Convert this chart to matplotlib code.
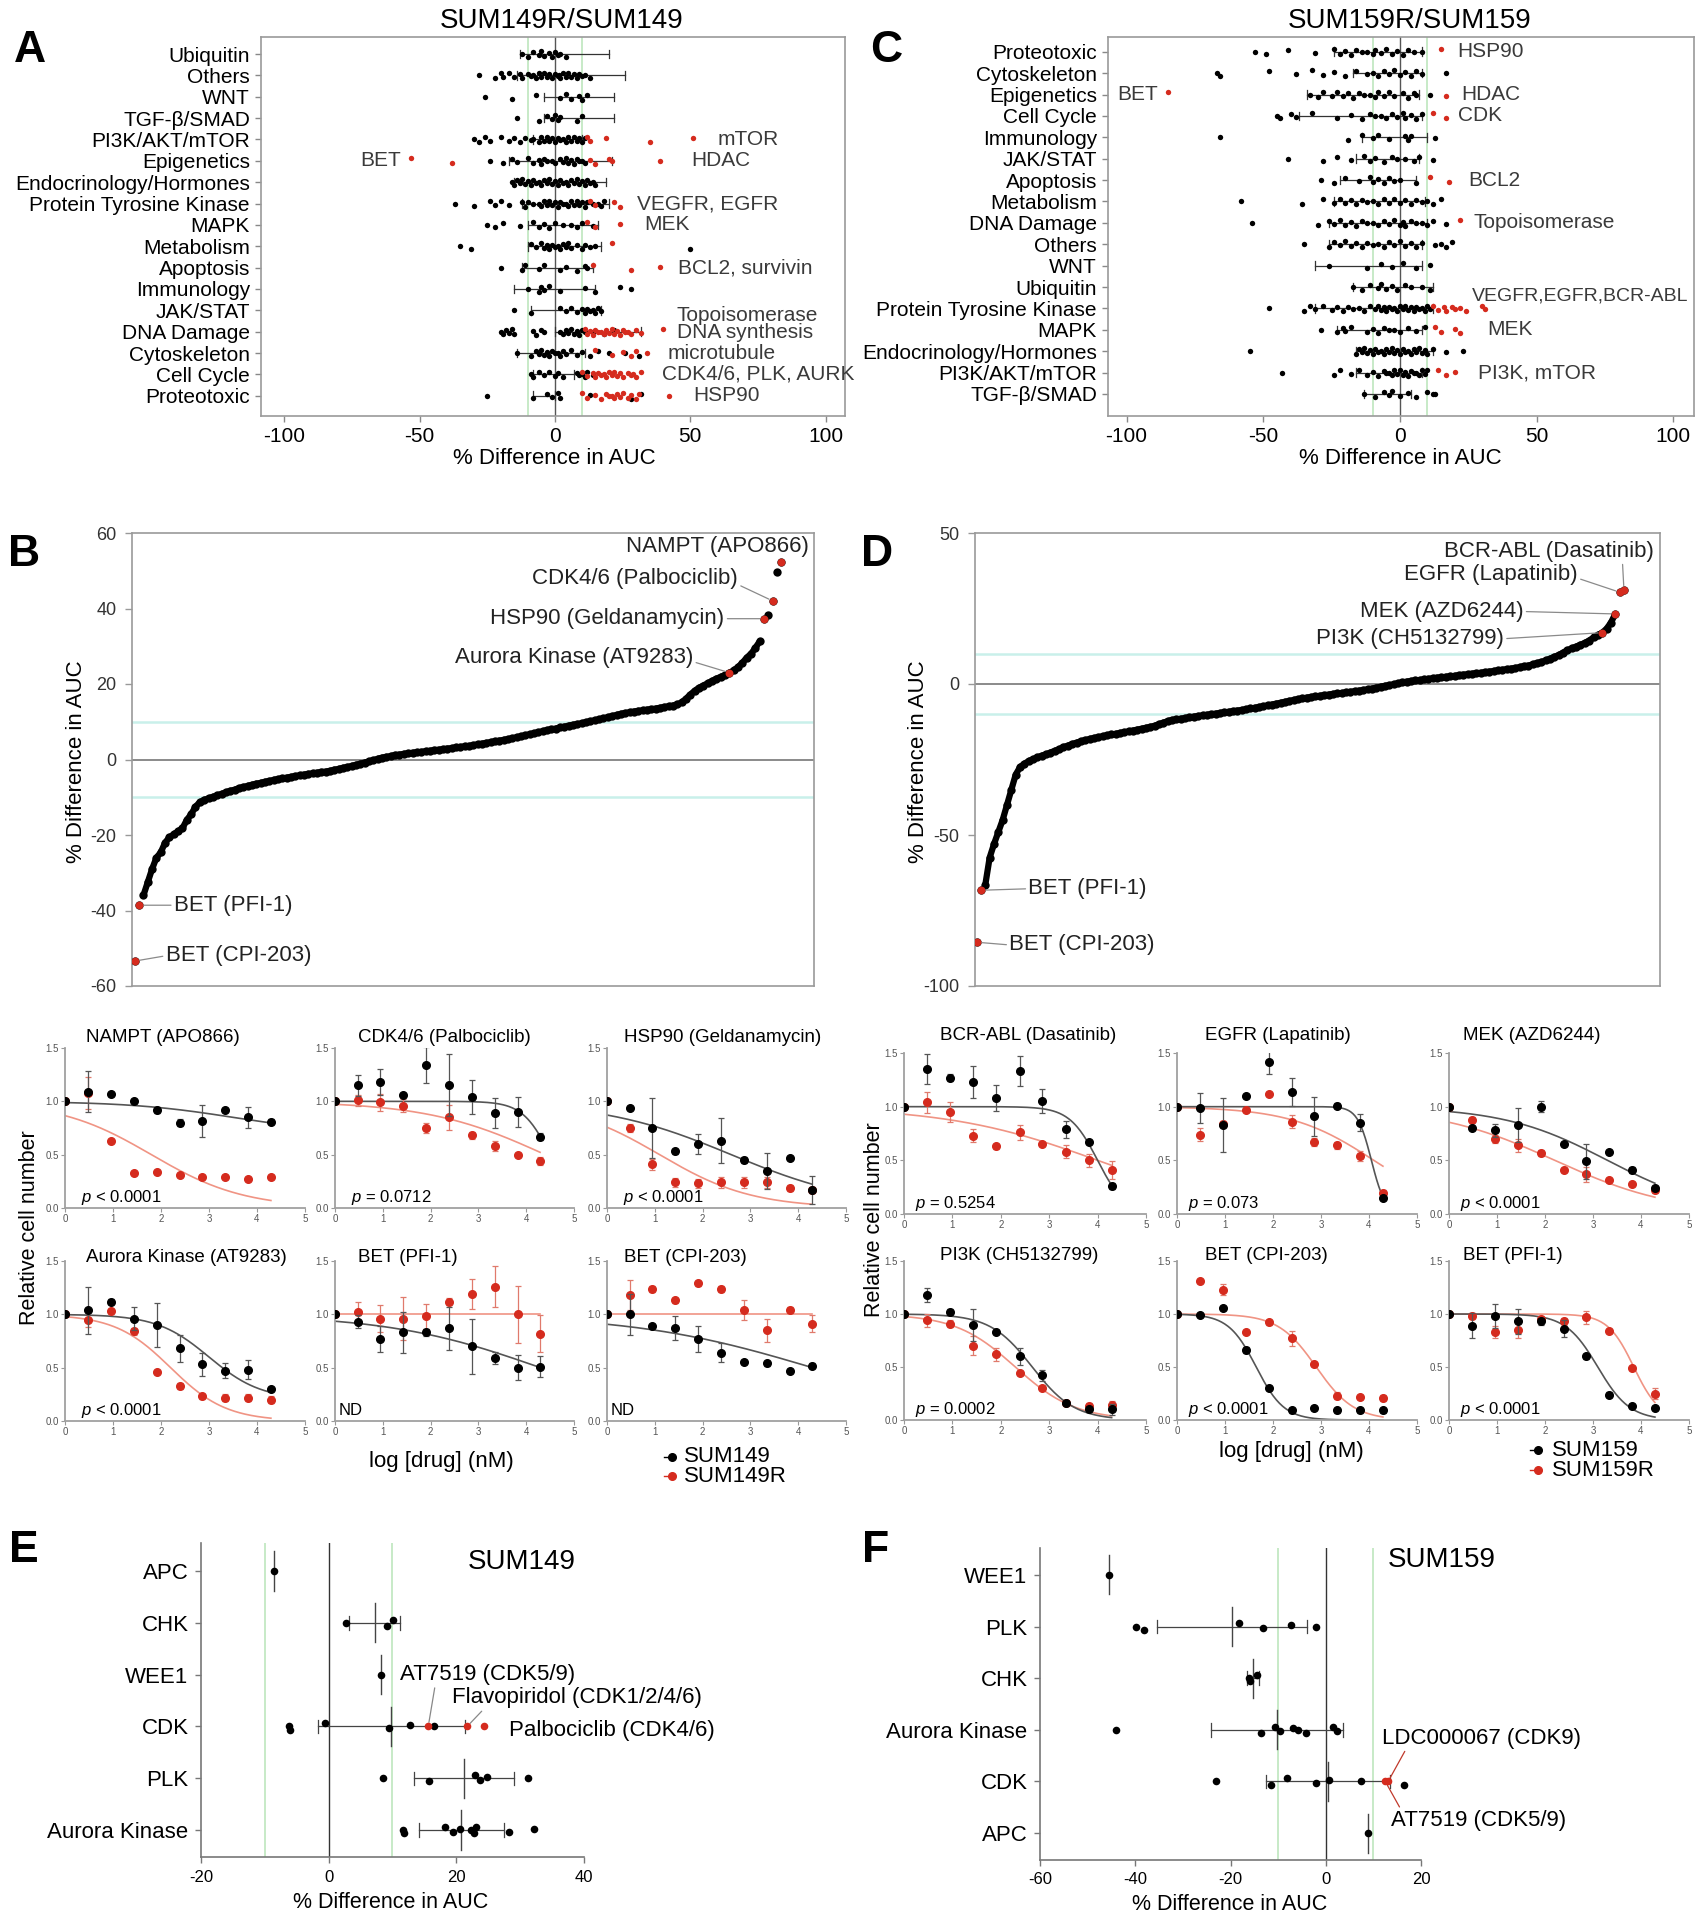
import numpy as np
import matplotlib
matplotlib.use('Agg')
import matplotlib.pyplot as plt
from matplotlib.lines import Line2D

plt.rcParams['font.family'] = ['Liberation Sans', 'DejaVu Sans']
plt.rcParams['axes.unicode_minus'] = False
plt.rcParams['mathtext.fontset'] = 'custom'
plt.rcParams['mathtext.it'] = 'Liberation Sans:italic'
plt.rcParams['mathtext.rm'] = 'Liberation Sans'

RED = '#d52b1e'

# ======================= DATA =======================
# ---- Panel A : SUM149R/SUM149 ----
a_cats = ['Ubiquitin', 'Others', 'WNT', 'TGF-β/SMAD', 'PI3K/AKT/mTOR', 'Epigenetics',
          'Endocrinology/Hormones', 'Protein Tyrosine Kinase', 'MAPK', 'Metabolism',
          'Apoptosis', 'Immunology', 'JAK/STAT', 'DNA Damage', 'Cytoskeleton',
          'Cell Cycle', 'Proteotoxic']
a_black = [
    [-12, -10, -8, -6, -5, -4, -2, -1, 0, 1, 2, 4],
    [-28, -22, -20, -19, -17, -15, -13, -12, -10, -9, -8, -7, -6, -5, -4, -3, -2, -1, 0, 1,
     1.5, 2, 3, 4, 5, 6, 7, 8, 9, 10, 11, 13],
    [-26, -16, -7, 2, 4, 6, 9, 10, 12],
    [-14, -6, -3, -1, 0, 1, 2, 8, 10],
    [-30, -28, -26, -24, -20, -17, -15, -13, -11, -9, -8, -6, -5, -4, -3, -2, -1, 0, 1, 2,
     3, 4, 5, 6, 7, 8, 9, 10, 11],
    [-24, -19, -16, -14, -10, -8, -6, -5, -4, -3, -1, 0, 2, 3, 4, 5, 6, 7, 8, 9, 10, 11],
    [-16, -15, -14, -13, -12, -11, -10, -9, -8, -7, -6, -5, -4, -3, -2, -1, 0, 1, 2, 3, 4,
     5, 6, 7, 8, 9, 10, 11, 12, 13, 14, 15],
    [-37, -30, -24, -22, -20, -17, -12, -11, -10, -8, -6, -5, -4, -3, -2, -1, 0, 1, 2, 3, 4,
     5, 6, 7, 8, 9, 10, 11, 12, 14, 16, 17, 18],
    [-25, -22, -19, -13, -8, -6, -4, -2, 0, 3, 6, 8, 10, 14],
    [-35, -31, -9, -7, -5, -4, -3, -2, -1, 0, 1, 2, 3, 4, 5, 6, 8, 10, 11, 13, 15, 50],
    [-20, -12, -11, -6, -4, 2, 4, 8, 11, 12],
    [-10, -6, -5, -4, -2, 2, 11, 15, 24, 28],
    [-15, -9, 2, 4, 6, 8, 10, 11, 12, 13, 14, 15, 16, 17],
    [-20, -19, -18, -17, -16, -15, -8, -7, -5, -4, 2, 3, 4, 5, 6, 7, 8, 9, 10, 11, 14, 18, 22],
    [-14, -9, -7, -6, -5, -4, -3, -2, -1, 0, 1, 2, 3, 4, 6, 8, 10, 13, 16, 20, 26, 31],
    [-9, -8, -6, -4, -2, 0, 1, 3, 8, 9, 10, 11, 12, 14],
    [-25, -8, -3, -1, 1, 2, 13, 28, 32],
]
a_red = [
    [], [], [], [], [12, 13, 19, 35, 51], [-53, -38, 13, 15, 20, 21, 39], [],
    [13, 15, 22, 24], [12, 15, 24], [21], [14, 28, 39], [], [],
    [11, 12, 13, 14, 15, 16, 17, 18, 19, 20, 21, 22, 23, 24, 25, 26, 27, 28, 30, 32, 40],
    [15, 21, 25, 28, 30, 34],
    [10, 12, 14, 15, 16, 17, 18, 19, 20, 21, 22, 23, 24, 25, 27, 28, 29, 30, 32],
    [10, 12, 15, 17, 19, 20, 21, 22, 23, 24, 25, 27, 28, 30, 31, 42],
]
a_lo = [-13, -14, -4, -4, -8, -17, -15, -12, -10, -10, -12, -15, -9, 0, -14, -8, -8]
a_hi = [20, 26, 22, 22, 10, 21, 19, 20, 16, 17, 14, 15, 17, 32, 11, 7, 0]
a_notes = ['mTOR', 'BET', 'HDAC', 'VEGFR, EGFR', 'MEK', 'BCL2, survivin', 'Topoisomerase',
           'DNA synthesis', 'microtubule', 'CDK4/6, PLK, AURK', 'HSP90']

# ---- Panel C : SUM159R/SUM159 ----
c_cats = ['Proteotoxic', 'Cytoskeleton', 'Epigenetics', 'Cell Cycle', 'Immunology',
          'JAK/STAT', 'Apoptosis', 'Metabolism', 'DNA Damage', 'Others', 'WNT', 'Ubiquitin',
          'Protein Tyrosine Kinase', 'MAPK', 'Endocrinology/Hormones', 'PI3K/AKT/mTOR',
          'TGF-β/SMAD']
c_black = [
    [-53, -49, -41, -31, -24, -22, -20, -18, -16, -14, -12, -10, -9, -7, -5, -3, -1, 1, 3, 5, 8],
    [-67, -66, -48, -38, -32, -28, -24, -20, -16, -12, -10, -8, -6, -4, -2, 0, 2, 4, 6, 8, 17],
    [-33, -30, -28, -25, -23, -21, -19, -17, -15, -13, -11, -9, -8, -6, -4, -2, 1, 3, 5, 6, 11],
    [-45, -44, -40, -38, -32, -23, -18, -14, -11, -9, -7, -5, -3, -1, 1, 2, 4, 6, 8],
    [-66, -19, -14, -10, -8, -4, 2, 3, 4, 13],
    [-41, -28, -23, -18, -13, -11, -9, -6, -3, -1, 2, 5, 7, 12],
    [-29, -24, -20, -15, -11, -10, -8, -6, -4, -2, 0, 6],
    [-58, -36, -28, -24, -22, -20, -18, -16, -14, -12, -10, -8, -6, -4, -2, 0, 2, 4, 6, 8,
     10, 12, 15],
    [-54, -30, -26, -24, -22, -20, -18, -16, -14, -12, -10, -8, -6, -4, -2, 0, 1, 2, 4, 6,
     8, 10, 12, 17],
    [-35, -26, -24, -22, -20, -18, -16, -14, -12, -10, -8, -6, -4, -2, 0, 2, 4, 6, 8, 13,
     15, 17, 19],
    [-26, -12, -7, -3, 1, 6, 11],
    [-17, -14, -11, -8, -7, -5, -3, -1, 2, 4, 8, 11],
    [-48, -35, -33, -31, -28, -25, -23, -21, -19, -17, -15, -13, -11, -9, -8, -7, -6, -5,
     -4, -3, -2, -1, 0, 1, 2, 3, 4, 5, 6, 7, 8, 9, 10, 11],
    [-29, -23, -21, -20, -18, -12, -10, -8, -6, -4, -2, 0, 3, 6, 9],
    [-55, -16, -15, -14, -13, -12, -11, -10, -9, -8, -7, -6, -5, -4, -3, -2, -1, 0, 1, 2,
     3, 4, 5, 6, 7, 8, 9, 10, 12, 17, 23],
    [-43, -24, -22, -18, -15, -12, -10, -8, -6, -5, -4, -3, -2, -1, 0, 1, 2, 3, 4, 5, 6,
     7, 8, 9, 10],
    [-13, -9, -6, -4, -3, 0, 3, 6, 10, 12, 13],
]
c_red = [[15], [], [-85, 17], [12, 17], [], [], [11, 18], [], [22], [], [], [],
         [12, 14, 16, 17, 19, 20, 22, 24, 30, 31], [13, 15, 20, 22], [], [14, 17, 20], []]
c_lo = [-24, -17, -34, -37, -14, -16, -22, -24, -26, -26, -31, -17, -31, -23, -16, -16, -13]
c_hi = [8, 8, 7, 8, 10, 7, 6, 9, 10, 8, 8, 12, 12, 8, 12, 8, 4]
c_notes = ['HSP90', 'BET', 'HDAC', 'CDK', 'BCL2', 'Topoisomerase', 'VEGFR,EGFR,BCR-ABL',
           'MEK', 'PI3K, mTOR']

# ---- Panel B : ranked % difference in AUC, SUM149 ----
b_vals = [-53.4, -38.6, -36.0, -32.5, -29.0, -26.0, -24.6, -22.0, -20.6, -19.8,
          -19.0, -18.2, -16.0, -14.5, -12.5, -11.3, -10.7, -10.3, -9.9, -9.5,
          -9.1, -8.7, -8.3, -8.0, -7.6, -7.3, -7.0, -6.7, -6.4, -6.2,
          -5.9, -5.7, -5.4, -5.2, -5.0, -4.8, -4.6, -4.4, -4.2, -4.0,
          -3.8, -3.7, -3.5, -3.3, -3.2, -3.0, -2.7, -2.5, -2.2, -2.0,
          -1.7, -1.4, -1.1, -0.8, -0.5, -0.2, 0.2, 0.5, 0.7, 0.9,
          1.2, 1.3, 1.5, 1.6, 1.8, 1.9, 2.0, 2.2, 2.3, 2.5,
          2.6, 2.7, 2.9, 3.0, 3.2, 3.3, 3.5, 3.6, 3.8, 4.0,
          4.2, 4.4, 4.6, 4.8, 5.0, 5.2, 5.4, 5.6, 5.9, 6.1,
          6.4, 6.7, 6.9, 7.2, 7.5, 7.8, 8.0, 8.2, 8.5, 8.7,
          9.0, 9.2, 9.4, 9.6, 9.9, 10.1, 10.4, 10.6, 10.9, 11.2,
          11.5, 11.8, 12.1, 12.3, 12.5, 12.7, 12.9, 13.0, 13.2, 13.3,
          13.5, 13.7, 13.9, 14.1, 14.3, 14.6, 15.1, 16.1, 17.2, 18.2,
          19.0, 19.6, 20.2, 20.8, 21.4, 21.9, 22.4, 23.0, 23.6, 24.5,
          25.6, 27.0, 28.0, 29.6, 31.3, 37.3, 38.4, 42.0, 49.7, 52.4]
b_hl = [0, 1, 137, 145, 147, 149]
b_labels = ['BET (CPI-203)', 'BET (PFI-1)', 'Aurora Kinase (AT9283)',
            'HSP90 (Geldanamycin)', 'CDK4/6 (Palbociclib)', 'NAMPT (APO866)']

# ---- Panel D : ranked % difference in AUC, SUM159 ----
d_vals = [-85.5, -68.3, -66.5, -57.5, -53.0, -49.0, -45.0, -40.0, -35.0, -30.0,
          -27.5, -26.4, -25.5, -24.9, -24.3, -23.7, -23.3, -22.7, -22.1, -21.6,
          -20.9, -20.4, -19.9, -19.4, -19.0, -18.6, -18.2, -17.9, -17.6, -17.3,
          -17.0, -16.7, -16.5, -16.2, -16.0, -15.7, -15.4, -15.1, -14.8, -14.5,
          -14.2, -13.8, -13.3, -12.8, -12.3, -11.9, -11.7, -11.5, -11.3, -11.0,
          -10.8, -10.6, -10.4, -10.2, -10.0, -9.8, -9.6, -9.4, -9.2, -9.0,
          -8.8, -8.6, -8.4, -8.1, -7.9, -7.6, -7.4, -7.1, -6.8, -6.5,
          -6.2, -5.9, -5.6, -5.3, -5.0, -4.8, -4.5, -4.3, -4.1, -3.9,
          -3.7, -3.5, -3.3, -3.1, -3.0, -2.8, -2.6, -2.4, -2.2, -2.0,
          -1.8, -1.5, -1.2, -0.9, -0.6, -0.4, -0.1, 0.2, 0.5, 0.8,
          1.0, 1.2, 1.3, 1.5, 1.7, 1.9, 2.1, 2.2, 2.4, 2.5,
          2.7, 2.9, 3.1, 3.2, 3.4, 3.6, 3.7, 3.9, 4.1, 4.3,
          4.5, 4.7, 4.9, 5.1, 5.3, 5.6, 5.9, 6.1, 6.5, 6.9,
          7.3, 7.8, 8.4, 9.0, 9.6, 10.4, 11.2, 11.8, 12.4, 13.0,
          13.6, 14.4, 15.4, 16.2, 17.0, 18.3, 20.3, 23.2, 30.4, 31.2]
d_hl = [0, 1, 144, 147, 148, 149]
d_labels = ['BET (CPI-203)', 'BET (PFI-1)', 'PI3K (CH5132799)', 'MEK (AZD6244)',
            'EGFR (Lapatinib)', 'BCR-ABL (Dasatinib)']

# ---- Dose response: log dose (nM), 3-fold dilutions ----
log_dose = [0, 0.48, 0.95, 1.43, 1.91, 2.39, 2.86, 3.34, 3.82, 4.29]

# SUM149 (black) vs SUM149R (red)
s149_titles = ['NAMPT (APO866)', 'CDK4/6 (Palbociclib)', 'HSP90 (Geldanamycin)',
               'Aurora Kinase (AT9283)', 'BET (PFI-1)', 'BET (CPI-203)']
s149_black = [
    [1.00, 1.09, 1.07, 1.00, 0.92, 0.80, 0.82, 0.92, 0.85, 0.81],
    [1.00, 1.15, 1.18, 1.06, 1.34, 1.15, 1.04, 0.89, 0.90, 0.67],
    [1.00, 0.94, 0.75, 0.53, 0.60, 0.63, 0.45, 0.35, 0.47, 0.17],
    [1.00, 1.04, 1.12, 0.96, 0.90, 0.68, 0.53, 0.47, 0.48, 0.30],
    [1.00, 0.93, 0.77, 0.83, 0.83, 0.87, 0.70, 0.59, 0.50, 0.51],
    [1.00, 1.00, 0.89, 0.87, 0.77, 0.64, 0.55, 0.54, 0.47, 0.52],
]
s149_black_err = [
    [0.0, 0.19, 0.02, 0.02, 0.03, 0.03, 0.15, 0.02, 0.10, 0.02],
    [0.0, 0.10, 0.12, 0.02, 0.17, 0.29, 0.16, 0.14, 0.14, 0.03],
    [0.0, 0.02, 0.28, 0.02, 0.09, 0.21, 0.03, 0.17, 0.02, 0.13],
    [0.0, 0.22, 0.02, 0.11, 0.21, 0.13, 0.11, 0.07, 0.09, 0.02],
    [0.0, 0.06, 0.12, 0.19, 0.03, 0.20, 0.26, 0.06, 0.12, 0.10],
    [0.0, 0.19, 0.02, 0.11, 0.12, 0.09, 0.02, 0.02, 0.02, 0.02],
]
s149_red = [
    [1.00, 1.08, 0.63, 0.33, 0.34, 0.31, 0.29, 0.29, 0.27, 0.29],
    [1.00, 1.01, 0.99, 0.96, 0.75, 0.85, 0.68, 0.58, 0.50, 0.44],
    [1.00, 0.75, 0.41, 0.24, 0.23, 0.24, 0.24, 0.24, 0.19, 0.17],
    [1.00, 0.95, 1.03, 0.84, 0.46, 0.33, 0.23, 0.22, 0.22, 0.20],
    [1.00, 1.02, 0.96, 0.96, 0.98, 1.12, 1.19, 1.26, 1.00, 0.82],
    [1.00, 1.18, 1.24, 1.13, 1.29, 1.24, 1.04, 0.85, 1.04, 0.91],
]
s149_red_err = [
    [0.0, 0.15, 0.02, 0.02, 0.02, 0.02, 0.02, 0.02, 0.02, 0.02],
    [0.0, 0.05, 0.08, 0.06, 0.05, 0.12, 0.03, 0.05, 0.02, 0.04],
    [0.0, 0.04, 0.05, 0.04, 0.04, 0.05, 0.05, 0.05, 0.03, 0.03],
    [0.0, 0.07, 0.02, 0.03, 0.02, 0.03, 0.02, 0.03, 0.03, 0.03],
    [0.0, 0.10, 0.13, 0.20, 0.12, 0.03, 0.14, 0.19, 0.27, 0.17],
    [0.0, 0.14, 0.03, 0.02, 0.02, 0.03, 0.09, 0.11, 0.03, 0.08],
]
# fitted curve parameters: top, bottom, logIC50, hill
s149_fit_black = [(1, 0.7, 3.5, 0.4), (1, 0, 4.5, 1.5), (1, 0, 2.6, 0.32),
                  (1, 0.2, 3.0, 0.8), (1, 0, 4.3, 0.27), (1, 0, 4.3, 0.23)]
s149_fit_red = [(1, 0, 1.8, 0.45), (1, 0, 4.4, 0.35), (1, 0, 1.1, 0.45),
                (1, 0, 2.2, 0.75), (1, 1, 2.0, 1.0), (1, 1, 2.0, 1.0)]
s149_p = ['$p$ < 0.0001', '$p$ = 0.0712', '$p$ < 0.0001', '$p$ < 0.0001', 'ND', 'ND']

# SUM159 (black) vs SUM159R (red)
s159_titles = ['BCR-ABL (Dasatinib)', 'EGFR (Lapatinib)', 'MEK (AZD6244)',
               'PI3K (CH5132799)', 'BET (CPI-203)', 'BET (PFI-1)']
s159_black = [
    [1.00, 1.35, 1.27, 1.23, 1.08, 1.33, 1.05, 0.79, 0.67, 0.26],
    [1.00, 0.99, 0.83, 1.10, 1.42, 1.14, 0.91, 1.01, 0.85, 0.15],
    [1.00, 0.80, 0.78, 0.83, 1.00, 0.65, 0.49, 0.58, 0.41, 0.24],
    [1.00, 1.18, 1.02, 0.90, 0.83, 0.60, 0.42, 0.16, 0.10, 0.10],
    [1.00, 0.99, 1.06, 0.66, 0.30, 0.09, 0.11, 0.09, 0.09, 0.09],
    [1.00, 0.89, 0.98, 0.93, 0.93, 0.86, 0.60, 0.24, 0.13, 0.11],
]
s159_black_err = [
    [0.0, 0.14, 0.03, 0.15, 0.12, 0.14, 0.11, 0.08, 0.02, 0.03],
    [0.0, 0.14, 0.25, 0.02, 0.12, 0.13, 0.18, 0.02, 0.08, 0.02],
    [0.0, 0.02, 0.06, 0.16, 0.05, 0.02, 0.16, 0.02, 0.03, 0.02],
    [0.0, 0.07, 0.03, 0.15, 0.02, 0.08, 0.05, 0.02, 0.02, 0.05],
    [0.0, 0.02, 0.02, 0.03, 0.02, 0.02, 0.02, 0.02, 0.02, 0.02],
    [0.0, 0.12, 0.11, 0.12, 0.03, 0.08, 0.02, 0.02, 0.02, 0.02],
]
s159_red = [
    [1.00, 1.04, 0.95, 0.73, 0.63, 0.76, 0.65, 0.58, 0.50, 0.41],
    [1.00, 0.74, 0.84, 0.97, 1.12, 0.86, 0.67, 0.64, 0.54, 0.20],
    [1.00, 0.88, 0.70, 0.64, 0.57, 0.41, 0.37, 0.32, 0.28, 0.22],
    [1.00, 0.94, 0.91, 0.70, 0.62, 0.44, 0.30, 0.16, 0.13, 0.14],
    [1.00, 1.31, 1.23, 0.83, 0.92, 0.77, 0.53, 0.23, 0.22, 0.21],
    [1.00, 0.98, 0.83, 0.85, 0.95, 0.93, 0.97, 0.84, 0.49, 0.25],
]
s159_red_err = [
    [0.0, 0.10, 0.09, 0.06, 0.02, 0.07, 0.02, 0.06, 0.06, 0.08],
    [0.0, 0.06, 0.03, 0.02, 0.02, 0.06, 0.04, 0.03, 0.05, 0.02],
    [0.0, 0.02, 0.04, 0.06, 0.03, 0.02, 0.07, 0.02, 0.02, 0.02],
    [0.0, 0.06, 0.03, 0.09, 0.06, 0.02, 0.02, 0.02, 0.03, 0.04],
    [0.0, 0.02, 0.05, 0.02, 0.02, 0.07, 0.02, 0.03, 0.02, 0.03],
    [0.0, 0.03, 0.06, 0.08, 0.03, 0.03, 0.06, 0.02, 0.02, 0.05],
]
s159_fit_black = [(1, 0, 4.0, 1.5), (1, 0, 4.05, 3.0), (1, 0, 3.3, 0.4),
                  (1, 0, 2.65, 1.0), (1, 0, 1.65, 1.5), (1, 0, 3.1, 1.3)]
s159_fit_red = [(1, 0, 4.0, 0.28), (1, 0, 4.1, 0.5), (1, 0, 2.2, 0.35),
                (1, 0, 2.3, 0.7), (1, 0, 2.9, 1.1), (1, 0, 3.85, 1.6)]
s159_p = ['$p$ = 0.5254', '$p$ = 0.073', '$p$ < 0.0001', '$p$ = 0.0002',
          '$p$ < 0.0001', '$p$ < 0.0001']

# ---- Panel E : SUM149 cell-cycle targets ----
e_cats = ['APC', 'CHK', 'WEE1', 'CDK', 'PLK', 'Aurora Kinase']
e_black = [[-8.6], [2.7, 9.1, 10.1], [8.2], [-6.2, -6.0, -0.5, 9.4, 12.7, 16.5],
           [8.5, 15.7, 22.9, 23.7, 24.8, 31.2],
           [11.6, 11.8, 18.3, 19.5, 20.6, 22.3, 22.7, 23.1, 28.2, 32.2]]
e_red = [[], [], [], [15.6, 21.7, 24.4], [], []]
e_mean = [-8.6, 7.2, 8.2, 9.8, 21.2, 20.8]
e_sd = [0, 4.0, 0, 11.5, 7.8, 6.7]
e_red_labels = ['AT7519 (CDK5/9)', 'Flavopiridol (CDK1/2/4/6)', 'Palbociclib (CDK4/6)']

# ---- Panel F : SUM159 cell-cycle targets ----
f_cats = ['WEE1', 'PLK', 'CHK', 'Aurora Kinase', 'CDK', 'APC']
f_black = [[-45.5], [-39.8, -38.1, -18.2, -13.1, -7.4, -2.0], [-16.1, -15.9, -14.5],
           [-44.1, -13.6, -10.6, -9.7, -6.8, -5.9, -4.2, 1.5, 2.3],
           [-23.1, -11.4, -8.2, -2.0, 0.6, 7.4, 16.5], [8.8]]
f_red = [[], [], [], [], [12.5, 13.1], []]
f_mean = [-45.5, -19.7, -15.3, -10.2, 0.45, 8.8]
f_sd = [0, 15.7, 1.2, 13.8, 13.1, 0]
f_red_labels = ['AT7519 (CDK5/9)', 'LDC000067 (CDK9)']

# ======================= FIGURE =======================
W, H = 1700, 1920
fig = plt.figure(figsize=(W / 100, H / 100), dpi=100)


def px_ax(x0, y0, x1, y1):
    return fig.add_axes([x0 / W, 1 - y1 / H, (x1 - x0) / W, (y1 - y0) / H])


def ftext(x, y, s, **kw):
    return fig.text(x / W, 1 - y / H, s, **kw)


JIT = [0.0, 0.12, -0.1, 0.05, -0.13, 0.09, -0.05, 0.14, -0.08, 0.02]
NOTE_C = '#3a3a3a'


def strip(ax, cats, blacks, reds, lo, hi, xlim, ylim):
    ax.axvline(0, color='#555', lw=1.0, zorder=1)
    for v in (-10, 10):
        ax.axvline(v, color='#c3e8c3', lw=1.3, zorder=1)
    for i in range(len(cats)):
        ax.plot([lo[i], hi[i]], [i, i], color='#333', lw=0.9, zorder=2)
        for xv in (lo[i], hi[i]):
            ax.plot([xv, xv], [i - 0.2, i + 0.2], color='#333', lw=0.9, zorder=2)
        bl = blacks[i]
        ax.scatter(bl, [i + JIT[k % len(JIT)] for k in range(len(bl))], s=15, c='k',
                   linewidths=0, zorder=3)
        rd = reds[i]
        if rd:
            ax.scatter(rd, [i + JIT[(k + 4) % len(JIT)] for k in range(len(rd))], s=15,
                       c=RED, linewidths=0, zorder=4)
    ax.set_xlim(xlim)
    ax.set_ylim(ylim)
    ax.set_yticks(range(len(cats)))
    ax.set_yticklabels(cats, fontsize=15)
    ax.set_xticks([-100, -50, 0, 50, 100])
    ax.set_xticklabels(['-100', '-50', '0', '50', '100'], fontsize=15)
    for s in ax.spines.values():
        s.set_color('#9a9a9a')
        s.set_linewidth(1.2)
    ax.tick_params(axis='both', colors='#888', labelcolor='k', length=4, width=1, pad=4)


# ---------- Panel A ----------
axA = px_ax(261, 37, 845, 416)
strip(axA, a_cats, a_black, a_red, a_lo, a_hi, (-108.6, 107.2), (16.95, -0.8))
a_note_pos = [(60, 4), (-57, 5), (50.4, 5), (30.4, 7), (33, 8), (45.6, 10), (45, 12.25),
              (45, 13.05), (41.6, 14), (39.6, 15), (51, 16)]
for s, (x, y) in zip(a_notes, a_note_pos):
    axA.text(x, y, s, fontsize=15, color=NOTE_C, ha='right' if x < 0 else 'left', va='center')
ftext(562, 21, 'SUM149R/SUM149', fontsize=20, ha='center', va='center')
ftext(554, 458, '% Difference in AUC', fontsize=16, ha='center', va='center')
ftext(30, 51, 'A', fontsize=32, fontweight='bold', ha='center', va='center')

# ---------- Panel C ----------
axC = px_ax(1108, 37, 1694, 416)
strip(axC, c_cats, c_black, c_red, c_lo, c_hi, (-106.8, 107.6), (17.03, -0.69))
c_note_pos = [(21, 0), (-88.6, 2), (22.6, 2), (21.4, 3), (25, 6), (27, 8), (26.5, 11.4),
              (32, 13), (28.6, 15)]
c_note_fs = [15, 15, 15, 15, 15, 15, 14, 15, 15]
for s, (x, y), fs in zip(c_notes, c_note_pos, c_note_fs):
    axC.text(x, y, s, fontsize=fs, color=NOTE_C, ha='right' if x < 0 else 'left',
             va='center', clip_on=False)
ftext(1410, 21, 'SUM159R/SUM159', fontsize=20, ha='center', va='center')
ftext(1400, 458, '% Difference in AUC', fontsize=16, ha='center', va='center')
ftext(886, 51, 'C', fontsize=32, fontweight='bold', ha='center', va='center')


# ---------- Ranked panels ----------
def ranked(ax, vals, hl, labels, lab_pos, lab_rel, xlim, ylim, yticks, dense_end):
    vals = np.asarray(vals, dtype=float)
    x = np.arange(len(vals))
    ax.axhline(0, color='#8a8a8a', lw=1.4, zorder=1)
    for v in (-10, 10):
        ax.axhline(v, color='#c9f0ea', lw=1.8, zorder=1)
    ax.plot(x[2:dense_end], vals[2:dense_end], color='k', lw=4.5, solid_capstyle='round',
            zorder=2)
    ax.scatter(x, vals, s=36, c='k', linewidths=0, zorder=3)
    ax.scatter(x[hl], vals[hl], s=32, c=RED, linewidths=0, zorder=4)
    for k, idx in enumerate(hl):
        tx, ty = lab_pos[k]
        rel = lab_rel[k]
        ha = 'left' if rel is not None and rel[0] == 0 else 'right'
        if rel is None:
            ax.text(tx, ty, labels[k], fontsize=16, color='#222', ha='right', va='center')
        else:
            ax.annotate(labels[k], xy=(x[idx], vals[idx]), xytext=(tx, ty), ha=ha,
                        va='center', fontsize=16, color='#222',
                        arrowprops=dict(arrowstyle='-', color='#8a8a8a', lw=0.9,
                                        shrinkA=0, shrinkB=3, relpos=rel))
    ax.set_xlim(xlim)
    ax.set_ylim(ylim)
    ax.set_xticks([])
    ax.set_yticks(yticks)
    ax.set_yticklabels([str(t) for t in yticks], fontsize=13)
    for s in ax.spines.values():
        s.set_color('#9a9a9a')
        s.set_linewidth(1.2)
    ax.tick_params(axis='y', colors='#999', labelcolor='#333', length=5, width=1, pad=6)


axB = px_ax(132, 533, 814, 986)
ranked(axB, b_vals, b_hl, b_labels,
       [(7.1, -52.0), (9.0, -38.6), (128.7, 27.0), (135.9, 37.3), (139.0, 48.0), (155.3, 56.4)],
       [(0, 0.5), (0, 0.5), (1, 0.3), (1, 0.5), (1, 0.2), None],
       (-0.63, 156.5), (-60, 60), [-60, -40, -20, 0, 20, 40, 60], 145)
ftext(76, 762, '% Difference in AUC', fontsize=16, rotation=90, ha='center', va='center')
ftext(24, 554, 'B', fontsize=32, fontweight='bold', ha='center', va='center')

axD = px_ax(975, 533, 1660, 986)
ranked(axD, d_vals, d_hl, d_labels,
       [(7.5, -86.4), (11.9, -67.8), (121.4, 15.0), (125.9, 24.0), (138.4, 36.4), (155.9, 44.0)],
       [(0, 0.5), (0, 0.5), (1, 0.5), (1, 0.5), (1, 0.3), (0.85, 0.0)],
       (-0.37, 157.3), (-100, 50), [-100, -50, 0, 50], 148)
ftext(918, 762, '% Difference in AUC', fontsize=16, rotation=90, ha='center', va='center')
ftext(877, 554, 'D', fontsize=32, fontweight='bold', ha='center', va='center')


# ---------- Dose-response panels ----------
def logistic(x, top, bottom, x50, hill):
    return bottom + (top - bottom) / (1 + 10 ** ((x - x50) * hill))


def dose_panel(ax, title, tx, ty, blk, blk_e, red, red_e, pb, pr, ptxt, px):
    xc = np.linspace(log_dose[0], log_dose[-1], 200)
    ax.plot(xc, logistic(xc, *pr), color='#f09484', lw=1.2, zorder=2)
    ax.plot(xc, logistic(xc, *pb), color='#555', lw=1.2, zorder=2)
    ax.errorbar(log_dose, red, yerr=red_e, fmt='o', ms=5.5, mfc=RED, mec=RED,
                ecolor='#e07a6c', elinewidth=0.9, capsize=2.2, capthick=0.9, zorder=3)
    ax.errorbar(log_dose, blk, yerr=blk_e, fmt='o', ms=5.5, mfc='k', mec='k',
                ecolor='#555', elinewidth=0.9, capsize=2.2, capthick=0.9, zorder=4)
    ax.set_xlim(0, 5)
    ax.set_ylim(0, 1.5)
    ax.set_xticks(range(6))
    ax.set_yticks([0, 0.5, 1.0, 1.5])
    ax.set_yticklabels(['0.0', '0.5', '1.0', '1.5'])
    for s in ('top', 'right'):
        ax.spines[s].set_visible(False)
    for s in ('left', 'bottom'):
        ax.spines[s].set_color('#a0a0a0')
        ax.spines[s].set_linewidth(1.3)
    ax.tick_params(labelsize=7, colors='#999', labelcolor='#555', length=3, pad=1.5)
    ax.text(px, 0.1, ptxt, fontsize=12, ha='left', va='center')
    ax.annotate(title, xy=(tx, H - ty), xycoords=('data', 'figure pixels'), ha='left',
                va='center', fontsize=13.5, annotation_clip=False)


left_cols = [(65, 305), (335, 574), (607, 846)]
left_rows = [(1048, 1208), (1261, 1421)]
left_title_x = [0.44, 0.48, 0.36]
left_title_y = [1037, 1257]
for k in range(6):
    r, c = divmod(k, 3)
    ax = px_ax(left_cols[c][0], left_rows[r][0], left_cols[c][1], left_rows[r][1])
    ptx = 0.08 if s149_p[k] == 'ND' else 0.33
    dose_panel(ax, s149_titles[k], left_title_x[c], left_title_y[r], s149_black[k],
               s149_black_err[k], s149_red[k], s149_red_err[k], s149_fit_black[k],
               s149_fit_red[k], s149_p[k], ptx)

right_cols = [(904, 1146), (1177, 1417), (1449, 1689)]
right_rows = [(1053, 1214), (1261, 1420)]
right_title_x = [0.74, 0.59, 0.30]
right_title_y = [1035, 1256]
for k in range(6):
    r, c = divmod(k, 3)
    ax = px_ax(right_cols[c][0], right_rows[r][0], right_cols[c][1], right_rows[r][1])
    dose_panel(ax, s159_titles[k], right_title_x[c], right_title_y[r], s159_black[k],
               s159_black_err[k], s159_red[k], s159_red_err[k], s159_fit_black[k],
               s159_fit_red[k], s159_p[k], 0.22)

ftext(30, 1228, 'Relative cell number', fontsize=15.5, rotation=90, ha='center', va='center')
ftext(441, 1462, 'log [drug] (nM)', fontsize=16, ha='center', va='center')
ftext(874, 1220, 'Relative cell number', fontsize=15.5, rotation=90, ha='center', va='center')
ftext(1291, 1452, 'log [drug] (nM)', fontsize=16, ha='center', va='center')


def legend_item(xm, xt, y, color, label):
    fig.add_artist(Line2D([(xm - 8) / W, (xm + 2) / W], [1 - y / H, 1 - y / H], color=color,
                          lw=1.0))
    fig.add_artist(Line2D([xm / W], [1 - y / H], marker='o', ms=5.5, color=color, lw=0))
    ftext(xt, y, label, fontsize=16, ha='left', va='center')


legend_item(672, 684, 1457, 'k', 'SUM149')
legend_item(672, 684, 1476, RED, 'SUM149R')
legend_item(1538, 1552, 1450, 'k', 'SUM159')
legend_item(1538, 1552, 1470, RED, 'SUM159R')

# ---------- Panels E / F ----------
JIT_E = [0.0, 0.06, -0.06, 0.03, -0.03]


def dotplot(ax, cats, blacks, reds, means, sds, xlim, xticks, ylim):
    ax.axvline(0, color='#333', lw=1.0, zorder=1)
    for v in (-10, 10):
        ax.axvline(v, color='#c3e8c3', lw=1.3, zorder=1)
    for i in range(len(cats)):
        m, s = means[i], sds[i]
        ax.plot([m, m], [i - 0.38, i + 0.38], color='#444', lw=1.0, zorder=2)
        if s > 0:
            ax.plot([m - s, m + s], [i, i], color='#444', lw=0.9, zorder=2)
            for xv in (m - s, m + s):
                ax.plot([xv, xv], [i - 0.13, i + 0.13], color='#444', lw=0.9, zorder=2)
        bl = blacks[i]
        ax.scatter(bl, [i + JIT_E[k % len(JIT_E)] for k in range(len(bl))], s=30, c='k',
                   linewidths=0, zorder=3)
        rd = reds[i]
        if rd:
            ax.scatter(rd, [i] * len(rd), s=30, c=RED, linewidths=0, zorder=4)
    ax.set_xlim(xlim)
    ax.set_ylim(ylim)
    ax.set_xticks(xticks)
    ax.set_xticklabels([str(t) for t in xticks], fontsize=12)
    ax.set_yticks(range(len(cats)))
    ax.set_yticklabels(cats, fontsize=16)
    for s in ('top', 'right'):
        ax.spines[s].set_visible(False)
    for s in ('left', 'bottom'):
        ax.spines[s].set_color('#777')
        ax.spines[s].set_linewidth(1.2)
    ax.tick_params(colors='#777', labelcolor='k', length=4, width=1, pad=5)


axE = px_ax(201, 1543, 584, 1857)
dotplot(axE, e_cats, e_black, e_red, e_mean, e_sd, (-20, 40), [-20, 0, 20, 40], (5.52, -0.54))
e_lab_pos = [(11.2, 2.0), (19.3, 2.45), (28.2, 3.07)]
e_lab_rel = [(0.2, 0.0), (0.13, 0.0), None]
for k, lab in enumerate(e_red_labels):
    xv = e_red[3][k]
    if e_lab_rel[k] is None:
        axE.text(*e_lab_pos[k], lab, fontsize=16, ha='left', va='center', clip_on=False)
    else:
        axE.annotate(lab, xy=(xv, 3), xytext=e_lab_pos[k], fontsize=16, ha='left', va='center',
                     annotation_clip=False,
                     arrowprops=dict(arrowstyle='-', color='#888', lw=0.9, shrinkA=0,
                                     shrinkB=3, relpos=e_lab_rel[k]))
axE.text(30.2, -0.17, 'SUM149', fontsize=20, ha='center', va='center')
ftext(391, 1902, '% Difference in AUC', fontsize=15.5, ha='center', va='center')
ftext(24, 1551, 'E', fontsize=32, fontweight='bold', ha='center', va='center')

axF = px_ax(1040, 1548, 1421, 1860)
dotplot(axF, f_cats, f_black, f_red, f_mean, f_sd, (-60, 20), [-60, -40, -20, 0, 20],
        (5.52, -0.52))
f_lab_pos = [(13.6, 4.75), (11.9, 3.16)]
f_lab_rel = [(0.06, 1.0), (0.12, 0.0)]
for k, lab in enumerate(f_red_labels):
    axF.annotate(lab, xy=(f_red[4][k], 4), xytext=f_lab_pos[k], fontsize=16, ha='left',
                 va='center', annotation_clip=False,
                 arrowprops=dict(arrowstyle='-', color='#c0392b', lw=0.9, shrinkA=0,
                                 shrinkB=3, relpos=f_lab_rel[k]))
axF.text(24.4, -0.29, 'SUM159', fontsize=20, ha='center', va='center', clip_on=False)
ftext(1230, 1905, '% Difference in AUC', fontsize=15.5, ha='center', va='center')
ftext(876, 1551, 'F', fontsize=32, fontweight='bold', ha='center', va='center')

fig.savefig('out.png', dpi=100)
